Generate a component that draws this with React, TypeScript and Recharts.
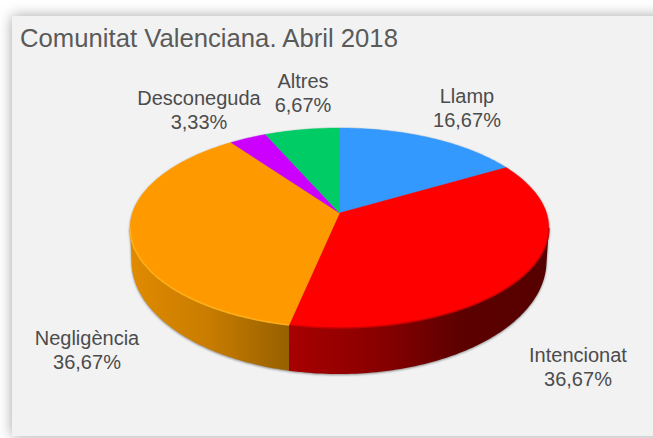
import { PieChart, Pie } from "recharts"

const categories = ["Llamp", "Intencionat", "Negligència", "Desconeguda", "Altres"]
const shares = [16.67, 36.67, 36.67, 3.33, 6.67]
const sliceColors = ["#3399ff", "#ff0000", "#ff9900", "#cc00ff", "#00cc66"]
const rimColors = ["#3399ff", "#c40000", "#ffb41e", "#cc00ff", "#00cc66"]
const wallStops = [
  ["#1f5f9f", "#1f5f9f"],
  ["#a80000", "#8a0000", "#5c0000", "#560000"],
  ["#e08a00", "#c87c00", "#966000"],
  ["#7f00a0", "#7f00a0"],
  ["#008040", "#008040"],
]
// first-line baseline of every label
const labelAnchors = [
  [467, 103],
  [578, 362],
  [87, 345],
  [199, 105],
  [303, 88],
]

const data = categories.map((name, i) => ({ name, value: shares[i] }))

// the slices are drawn through a perspective projection of the flat pie
const TILT = 0.4722
const PERSPECTIVE = 0.15
const DROP_CY = 261
const DROP_RY = 113
const DROP_RX = 207.5

const project = (cx: number, cy: number, r: number, deg: number) => {
  const t = (deg * Math.PI) / 180
  const w = PERSPECTIVE * Math.cos(t) + 1
  return [cx + (r * Math.sin(t)) / w, cy - (r * TILT * Math.cos(t)) / w]
}

const rimPoints = (cx: number, cy: number, r: number, from: number, to: number) => {
  const pts = []
  const n = Math.max(2, Math.ceil(to - from))
  for (let i = 0; i <= n; i++) pts.push(project(cx, cy, r, from + ((to - from) * i) / n))
  return pts
}

const toPath = (pts: number[][]) =>
  pts.map((p, i) => `${i ? "L" : "M"}${p[0].toFixed(2)} ${p[1].toFixed(2)}`).join(" ")

const FRONT_FROM = (Math.acos(-PERSPECTIVE) * 180) / Math.PI
const FRONT_TO = 360 - FRONT_FROM

function Slice3D(props: any) {
  const { cx, cy, outerRadius, startAngle, endAngle, fill } = props
  const index = categories.indexOf(props.name ?? props.payload?.name)
  const from = 90 - startAngle
  const to = 90 - endAngle
  const a = Math.max(from, FRONT_FROM)
  const b = Math.min(to, FRONT_TO)
  const hasWall = b > a

  let wall = ""
  let rim = ""
  if (hasWall) {
    const top = rimPoints(cx, cy, outerRadius, a, b)
    const bottom = top.map((p) => {
      const x = cx - 0.5 + (p[0] - cx) * (DROP_RX / 209.5)
      const k = Math.min(1, Math.abs(x - cx + 0.5) / DROP_RX)
      return [x, DROP_CY + DROP_RY * Math.sqrt(1 - k * k)]
    })
    wall = toPath([...top, ...bottom.reverse()]) + " Z"
    rim = toPath(top)
  }

  const face = [[cx, cy], ...rimPoints(cx, cy, outerRadius, from, to)]
  return (
    <g>
      {hasWall && <path d={wall} fill={`url(#wall-${index})`} />}
      <path d={toPath(face) + " Z"} fill={fill} stroke={fill} strokeWidth={0.4} />
      {hasWall && (
        <path d={rim} fill="none" stroke={rimColors[index]} strokeWidth={1.6} opacity={0.85} />
      )}
    </g>
  )
}

function SliceLabel(props: any) {
  const { index, name, value } = props
  const [x, y] = labelAnchors[index]
  return (
    <text x={x} y={y} textAnchor="middle" fill="#4c4c4c" fontSize={20} fontFamily="'Liberation Sans', sans-serif">
      <tspan x={x}>{name}</tspan>
      <tspan x={x} dy={23.5}>{value.toFixed(2).replace(".", ",")}%</tspan>
    </text>
  )
}

export default function App() {
  return (
    <div style={{ position: "absolute", left: 0, top: 0, width: 653, height: 438, overflow: "hidden", background: "#ffffff" }}>
      <style>{`.recharts-pie { filter: drop-shadow(0 1.5px 1.2px rgba(70,70,70,0.6)); }`}</style>
      <div
        style={{
          position: "absolute",
          left: 12,
          top: 16,
          width: 700,
          height: 420,
          background: "#f2f2f2",
          boxShadow: "0 0 13px rgba(0,0,0,0.36)",
        }}
      />
      <div style={{ position: "absolute", left: 0, top: 0 }}>
        <PieChart width={653} height={438} margin={{ top: 0, right: 0, bottom: 0, left: 0 }}>
          <defs>
            {wallStops.map((stops, i) => (
              <linearGradient key={i} id={`wall-${i}`} x1="0" y1="0" x2="1" y2="0">
                {stops.map((c, j) => (
                  <stop key={j} offset={j / (stops.length - 1)} stopColor={c} />
                ))}
              </linearGradient>
            ))}
          </defs>
          <text x={20} y={47} fill="#5a5a5a" fontSize={25.7} fontFamily="'Liberation Sans', sans-serif">
            Comunitat Valenciana. Abril 2018
          </text>
          <Pie
            data={data}
            dataKey="value"
            nameKey="name"
            cx={339.5}
            cy={213}
            outerRadius={207}
            startAngle={90}
            endAngle={-270}
            stroke="none"
            isAnimationActive={false}
            shape={(props: any, i: number) => (
              <Slice3D {...props} name={categories[i]} fill={sliceColors[i]} />
            )}
            label={SliceLabel}
            labelLine={false}
          />
        </PieChart>
      </div>
    </div>
  )
}
